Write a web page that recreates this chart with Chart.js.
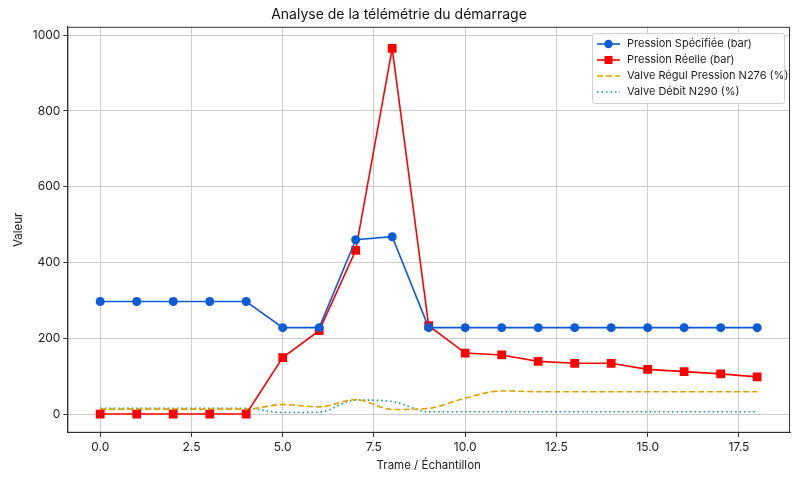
<!DOCTYPE html>
<html>
<head>
<meta charset="utf-8">
<script src="https://cdn.jsdelivr.net/npm/chart.js@4.4.1/dist/chart.umd.min.js"></script>
<style>
  html, body { margin:0; padding:0; background:#fff; }
  #wrap { width:800px; height:480px; }
</style>
</head>
<body>
<div id="wrap"><canvas id="chart" width="800" height="480"></canvas></div>
<script>
// --- data ---
const frames      = [0,1,2,3,4,5,6,7,8,9,10,11,12,13,14,15,16,17,18];
const pSpecifiee  = [297,297,297,297,297,228,228,460,468,228,228,228,228,228,228,228,228,228,228];
const pReelle     = [0,0,0,0,0,149,220,432,965,233,161,156,139,134,134,118,112,106,98];
const valveN276   = [13,13,13,13,13,25,19,38,12,15,42,61,59,59,59,59,59,59,59];
const valveN290   = [15,15,15,15,15,4,5,37,33,6,6,6,6,6,6,6,6,6,6];
const xTicks = [0,2.5,5,7.5,10,12.5,15,17.5];
const yTicks = [0,200,400,600,800,1000];

const FONT = "Inter, 'DejaVu Sans', sans-serif";
Chart.defaults.font.family = FONT;
Chart.defaults.color = '#222';

const pts = arr => frames.map((f,i)=>({x:f, y:arr[i]}));

// legend drawn inside the plot area, top right
const innerLegend = {
  id: 'innerLegend',
  afterDraw(chart) {
    const ctx = chart.ctx;
    const ds = chart.data.datasets;
    const bx = 592, by = 33, bw = 192, bh = 70;
    ctx.save();
    ctx.fillStyle = 'rgba(255,255,255,0.85)';
    ctx.strokeStyle = '#d0d0d0';
    ctx.lineWidth = 1;
    ctx.beginPath();
    ctx.roundRect(bx+0.5, by+0.5, bw, bh, 2);
    ctx.fill(); ctx.stroke();
    ctx.font = '11px ' + FONT;
    ctx.textBaseline = 'middle';
    ds.forEach((d, i) => {
      const y = by + 11 + i*16;
      ctx.strokeStyle = d.borderColor;
      ctx.lineWidth = d.borderWidth;
      ctx.setLineDash(d.borderDash || []);
      ctx.beginPath(); ctx.moveTo(bx+5, y); ctx.lineTo(bx+28, y); ctx.stroke();
      ctx.setLineDash([]);
      if (d.pointRadius > 0) {
        ctx.fillStyle = d.pointBackgroundColor;
        ctx.beginPath();
        if (d.pointStyle === 'rect') ctx.rect(bx+16.5-4, y-4, 8, 8);
        else ctx.arc(bx+16.5, y, 4.2, 0, Math.PI*2);
        ctx.fill();
      }
      ctx.fillStyle = '#222';
      ctx.fillText(d.label, bx+35, y);
    });
    ctx.restore();
  }
};

new Chart(document.getElementById('chart'), {
  type: 'line',
  data: {
    datasets: [
      { label:'Pression Spécifiée (bar)', data:pts(pSpecifiee), borderColor:'#0d5bd6', backgroundColor:'#0d5bd6',
        pointBackgroundColor:'#0d5bd6', pointBorderWidth:0, pointRadius:4.5, pointStyle:'circle', borderWidth:1.6, tension:0 },
      { label:'Pression Réelle (bar)', data:pts(pReelle), borderColor:'#ff0000', backgroundColor:'#ff0000',
        pointBackgroundColor:'#ff0000', pointBorderWidth:0, pointRadius:6.2, pointStyle:'rect', borderWidth:1.6, tension:0 },
      { label:'Valve Régul Pression N276 (%)', data:pts(valveN276), borderColor:'#e69f00',
        pointRadius:0, borderWidth:1.6, borderDash:[6,3], cubicInterpolationMode:'monotone' },
      { label:'Valve Débit N290 (%)', data:pts(valveN290), borderColor:'#009e73',
        pointRadius:0, borderWidth:1.6, borderDash:[1.5,3], cubicInterpolationMode:'monotone' }
    ]
  },
  options: {
    responsive:false,
    animation:false,
    layout:{ padding:{ left:8, right:10, top:2, bottom:4 } },
    plugins:{
      legend:{ display:false },
      tooltip:{ enabled:false },
      title:{ display:true, text:'Analyse de la télémétrie du démarrage',
              font:{ size:14, weight:'normal' }, color:'#111', padding:{ top:4, bottom:4 } }
    },
    scales:{
      x:{
        type:'linear', min:-0.9, max:18.9,
        afterBuildTicks: ax => { ax.ticks = xTicks.map(v=>({value:v})); },
        ticks:{ callback:v=>v.toFixed(1), font:{ size:12 }, color:'#222', maxRotation:0, padding:3 },
        grid:{ color:'#cccccc', lineWidth:1, tickColor:'#333', tickLength:4 },
        border:{ color:'#333', width:1 },
        title:{ display:true, text:'Trame / Échantillon', font:{ size:11.5 }, color:'#222', padding:{ top:1 } }
      },
      y:{
        min:-49.5, max:1022,
        afterBuildTicks: ax => { ax.ticks = yTicks.map(v=>({value:v})); },
        ticks:{ callback:v=>String(v), font:{ size:12 }, color:'#222', padding:3 },
        grid:{ color:'#cccccc', lineWidth:1, tickColor:'#333', tickLength:4 },
        border:{ color:'#333', width:1 },
        title:{ display:true, text:'Valeur', font:{ size:11.5 }, color:'#222', padding:{ bottom:4 } }
      }
    }
  },
  plugins:[innerLegend, {
    id:'frame',
    afterDraw(chart){
      const {ctx, chartArea:a} = chart;
      ctx.save(); ctx.strokeStyle='#333'; ctx.lineWidth=1;
      ctx.strokeRect(a.left+0.5, a.top+0.5, a.right-a.left-1, a.bottom-a.top-1);
      ctx.restore();
    }
  }]
});
</script>
</body>
</html>
